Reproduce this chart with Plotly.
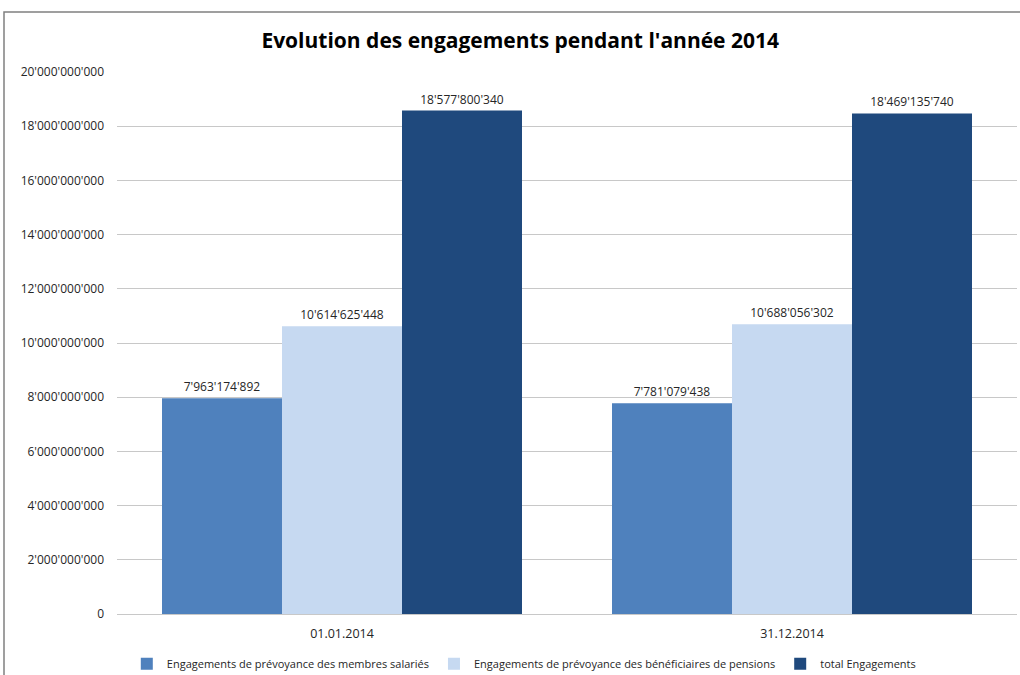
import plotly.graph_objects as go

categories = ["01.01.2014", "31.12.2014"]
series_names = [
    "Engagements de prévoyance des membres salariés",
    "Engagements de prévoyance des bénéficiaires de pensions",
    "total Engagements",
]
membres = [7963174892, 7781079438]
beneficiaires = [10614625448, 10688056302]
total = [18577800340, 18469135740]
colors = ["#4F81BD", "#C6D9F1", "#1F497D"]
tick_vals = [0, 2e9, 4e9, 6e9, 8e9, 10e9, 12e9, 14e9, 16e9, 18e9, 20e9]


def fmt(v):
    return f"{int(v):,}".replace(",", "'")


tick_text = [fmt(v) for v in tick_vals]

FONT = "Open Sans, Noto Sans, sans-serif"

fig = go.Figure()
for name, vals, col in zip(series_names, [membres, beneficiaires, total], colors):
    fig.add_trace(go.Bar(
        x=categories, y=vals, name=name,
        marker=dict(color=col, line=dict(width=0)),
        text=[fmt(v) for v in vals], textposition="outside",
        textfont=dict(size=12, color="#262626", family=FONT),
        cliponaxis=False,
    ))

fig.update_layout(
    width=1020, height=675,
    margin=dict(l=117, r=3, t=72, b=61, autoexpand=False),
    paper_bgcolor="white", plot_bgcolor="white",
    barmode="group", bargap=0.2, bargroupgap=0,
    font=dict(family=FONT, size=12, color="#262626"),
    title=dict(text="<b>Evolution des engagements pendant l'année 2014</b>",
               x=0.51, xanchor="center", y=0.94, yanchor="middle",
               font=dict(size=21, color="#000000", family=FONT)),
    showlegend=True,
    legend=dict(orientation="h", x=0.452, xanchor="center", y=-0.065, yanchor="top",
                font=dict(size=11, color="#262626"), traceorder="normal",
                itemwidth=30),
    xaxis=dict(showline=False, ticks="", tickfont=dict(size=12.5), showgrid=False,
               ticklabelstandoff=10),
    yaxis=dict(range=[0, 20e9], tickvals=tick_vals, ticktext=tick_text,
               showgrid=True, gridcolor="#C8C8C8", gridwidth=1,
               zeroline=True, zerolinecolor="#C8C8C8", zerolinewidth=1,
               showline=False, ticks="", ticklabelstandoff=12,
               tickfont=dict(size=12)),
    shapes=[dict(type="rect", xref="paper", yref="paper",
                 x0=(4 - 117) / 900, x1=1.05, y0=-0.2, y1=(614 - 12) / 542,
                 line=dict(color="#808080", width=1.5), fillcolor="rgba(0,0,0,0)",
                 layer="below")],
)

fig.write_html("out.html", config={"displayModeBar": False},
               post_script="document.body.style.margin='0px';")
